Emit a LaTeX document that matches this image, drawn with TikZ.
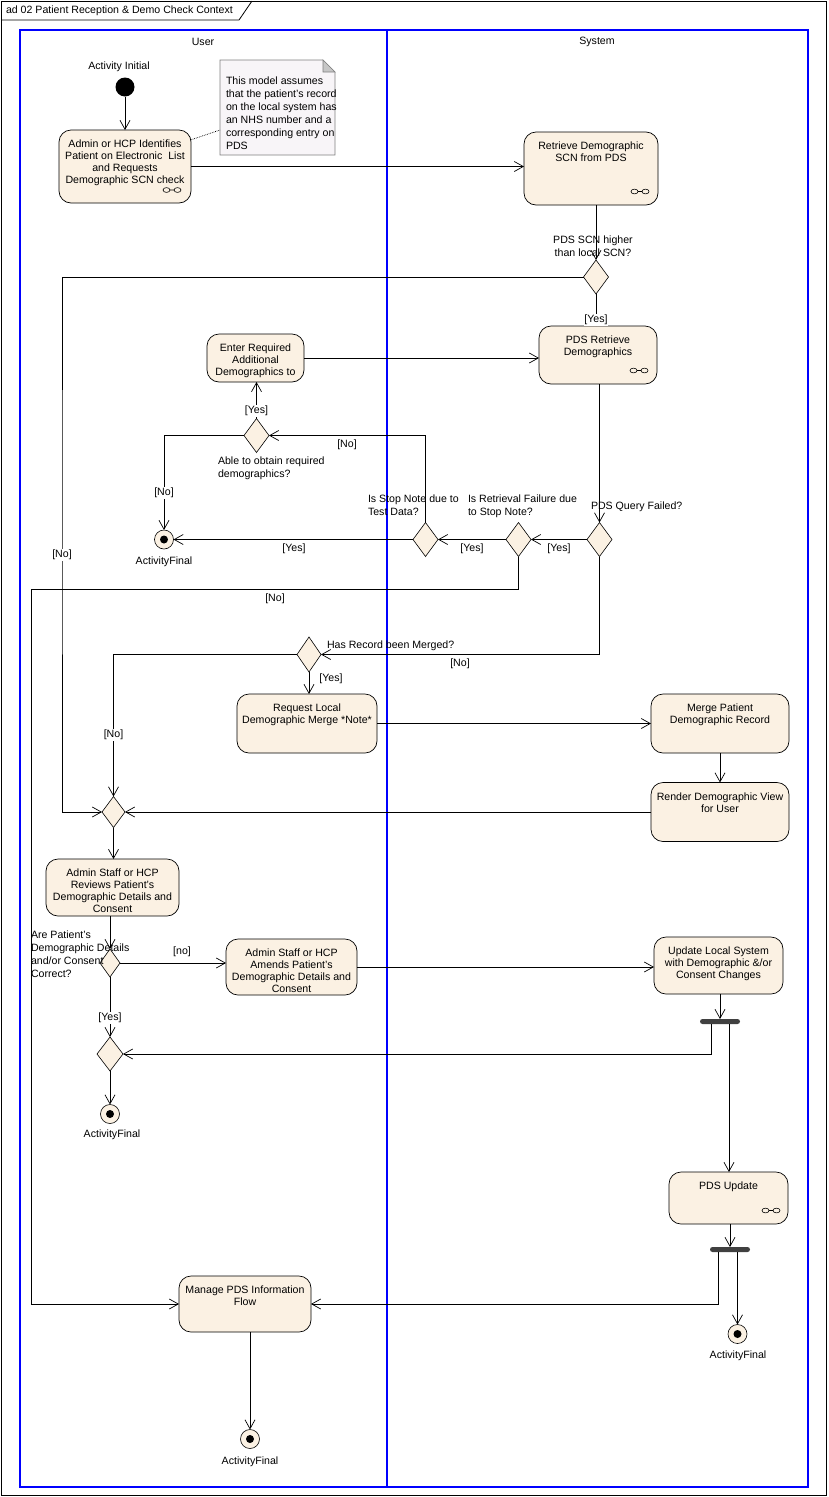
\documentclass[tikz,border=0pt]{standalone}
\usepackage{fontspec}
\setmainfont{Liberation Sans}
\usetikzlibrary{arrows.meta,shapes.geometric,calc}
\definecolor{actfill}{RGB}{251,241,227}
\definecolor{notefill}{RGB}{248,245,248}
\definecolor{notedraw}{RGB}{128,128,128}
\definecolor{lanec}{RGB}{0,0,255}
\definecolor{forkc}{RGB}{64,64,64}
\begin{document}
\begin{tikzpicture}[x=1pt,y=-1pt,
  every node/.style={font=\fontsize{10.6}{12}\selectfont, inner sep=0pt, outer sep=0pt},
  act/.style={draw, rounded corners=12pt, fill=actfill, line width=0.7pt},
  acttxt/.style={anchor=north, align=center},
  dec/.style={draw, diamond, fill=actfill, line width=0.6pt, minimum width=25pt, minimum height=34pt},
  qtxt/.style={anchor=north west, align=left, font=\fontsize{10.6}{13}\selectfont},
  lbl/.style={fill=white, inner sep=0.6pt},
  flow/.style={draw, line width=0.7pt, -{Straight Barb[length=9pt,width=10pt]}},
  fin/.style={circle, draw, fill=actfill, minimum size=19pt, line width=0.6pt},
  forkbar/.style={fill=forkc, rounded corners=2.5pt, minimum width=40pt, minimum height=5pt},
  rake/.pic={\draw[line width=0.6pt] (-5.5pt,0) ellipse (3.5pt and 2.4pt) (5.5pt,0) ellipse (3.5pt and 2.4pt) (-2pt,0) -- (2pt,0);}
]
\useasboundingbox (0,0) rectangle (828,1497);
% frame
\draw[line width=0.8pt] (1,1) rectangle (826,1495);
\draw[line width=0.8pt] (1,20) -- (239,20) -- (252,1);
\node[anchor=west] (title) at (6,11) {ad 02 Patient Reception \& Demo Check Context};
% lanes
\draw[lanec, line width=2pt] (20,30) rectangle (808,1487);
\draw[lanec, line width=2pt] (387,30) -- (387,1487);
\node (hUser) at (203,42) {User};
\node (hSys) at (597,42) {System};

% initial
\node[circle, fill=black, minimum size=19pt] (I) at (125,87) {};
\node (Il) at (119,67) {Activity Initial};

% activities
\node[act, minimum width=132pt, minimum height=73pt] (A1) at (125,166.5) {};
\node[acttxt] (A1t) at ([yshift=-10.3pt]A1.north) {Admin or HCP Identifies\\Patient on Electronic\ \ List\\and Requests\\Demographic SCN check};
\pic at ($(A1.south east)+(-19,-13)$) {rake};

\node[act, minimum width=134pt, minimum height=73pt] (A2) at (591,168.5) {};
\node[acttxt] (A2t) at ([yshift=-10.3pt]A2.north) {Retrieve Demographic\\SCN from PDS};
\pic at ($(A2.south east)+(-18,-13.5)$) {rake};

\node[act, minimum width=118pt, minimum height=58pt] (A3) at (598,355) {};
\node[acttxt] (A3t) at ([yshift=-10.3pt]A3.north) {PDS Retrieve\\Demographics};
\pic at ($(A3.south east)+(-18,-13.5)$) {rake};

\node[act, minimum width=97pt, minimum height=48pt] (A4) at (255.5,358) {};
\node[acttxt] (A4t) at ([yshift=-10.3pt]A4.north) {Enter Required\\Additional\\Demographics to};

\node[act, minimum width=140pt, minimum height=59pt] (A5) at (307,723.5) {};
\node[acttxt] (A5t) at ([yshift=-10.3pt]A5.north) {Request Local\\Demographic Merge *Note*};

\node[act, minimum width=138pt, minimum height=59pt] (A6) at (720,723.5) {};
\node[acttxt] (A6t) at ([yshift=-10.3pt]A6.north) {Merge Patient\\Demographic Record};

\node[act, minimum width=138pt, minimum height=59pt] (A7) at (720,812) {};
\node[acttxt] (A7t) at ([yshift=-10.3pt]A7.north) {Render Demographic View\\for User};

\node[act, minimum width=133pt, minimum height=57pt] (A8) at (112.5,887.5) {};
\node[acttxt] (A8t) at ([yshift=-10.3pt]A8.north) {Admin Staff or HCP\\Reviews Patient's\\Demographic Details and\\Consent};

\node[act, minimum width=131pt, minimum height=56pt] (A9) at (291.5,967) {};
\node[acttxt] (A9t) at ([yshift=-10.3pt]A9.north) {Admin Staff or HCP\\Amends Patient's\\Demographic Details and\\Consent};

\node[act, minimum width=129pt, minimum height=57pt] (A10) at (718.5,965.5) {};
\node[acttxt] (A10t) at ([yshift=-10.3pt]A10.north) {Update Local System\\with Demographic \&/or\\Consent Changes};

\node[act, minimum width=119pt, minimum height=52pt] (A11) at (728.5,1198) {};
\node[acttxt] (A11t) at ([yshift=-10.3pt]A11.north) {PDS Update};
\pic at ($(A11.south east)+(-17,-13.5)$) {rake};

\node[act, minimum width=132pt, minimum height=56pt] (A12) at (245,1304) {};
\node[acttxt] (A12t) at ([yshift=-10.3pt]A12.north) {Manage PDS Information\\Flow};

% note
\node[minimum width=115pt, minimum height=95pt] (note) at (277.5,107.5) {};
\draw[fill=notefill, draw=notedraw, line width=0.6pt] (note.north west) -- ([xshift=-12pt]note.north east) -- ([yshift=-12pt]note.north east) -- (note.south east) -- (note.south west) -- cycle;
\draw[fill=gray!45, draw=notedraw, line width=0.6pt] ([xshift=-12pt]note.north east) -- ([xshift=-12pt,yshift=-12pt]note.north east) -- ([yshift=-12pt]note.north east) -- cycle;
\node[qtxt] (notet) at (226,77) {This model assumes\\that the patient's record\\on the local system has\\an NHS number and a\\corresponding entry on\\PDS};
\draw[densely dotted, line width=0.7pt] (A1.22) -- ([yshift=25pt]note.south west);

% decisions
\node[dec] (D1) at (596,277) {};
\node[dec] (D2) at (599.5,539.5) {};
\node[dec] (D3) at (518.5,539.5) {};
\node[dec] (D4) at (425.5,539.5) {};
\node[dec] (D5) at (256.5,435.5) {};
\node[dec, minimum width=24pt, minimum height=35pt] (D6) at (309,654.5) {};
\node[dec, minimum width=23pt, minimum height=31pt] (Dm) at (113.5,812) {};
\node[dec, minimum width=20pt, minimum height=28pt] (D7) at (110,963) {};
\node[dec, minimum width=26pt, minimum height=34pt] (D8) at (110,1054) {};

% forks
\node[forkbar] (Fk1) at (720,1021.5) {};
\node[forkbar] (Fk2) at (730,1249.5) {};

% finals
\node[fin] (F1) at (164,539.5) {};
\fill (F1.center) circle (4pt);
\node (F1l) at (164,562) {ActivityFinal};
\node[fin] (F2) at (110,1114) {};
\fill (F2.center) circle (4pt);
\node (F2l) at (112,1135) {ActivityFinal};
\node[fin] (F3) at (737.5,1334) {};
\fill (F3.center) circle (4pt);
\node (F3l) at (738,1356) {ActivityFinal};
\node[fin] (F4) at (250,1439) {};
\fill (F4.center) circle (4pt);
\node (F4l) at (250,1462) {ActivityFinal};

% question texts
\node[qtxt, anchor=north, align=center] (D1q) at (593,236) {PDS SCN higher\\than local SCN?};
\node[qtxt] (D5q) at (218,457) {Able to obtain required\\demographics?};
\node[qtxt] (D4q) at (368,495) {Is Stop Note due to\\Test Data?};
\node[qtxt] (D3q) at (468,495) {Is Retrieval Failure due\\to Stop Note?};
\node[qtxt] (D2q) at (591,502) {PDS Query Failed?};
\node[qtxt] (D6q) at (327,641) {Has Record been Merged?};
\node[qtxt] (D7q) at (31,931) {Are Patient's\\Demographic Details\\and/or Consent\\Correct?};

% connectors
\draw[flow] (I.south) -- (A1.north);
\draw[flow] (A1.east) -- (A1.east -| A2.west);
\draw[flow] (A2.south -| D1.north) -- (D1.north);
\draw[flow] (D1.south) -- (D1.south |- A3.north);
\draw[flow] (D1.west) -| (62,500) |- (Dm.west);
\draw[flow] (A3.south -| D2.north) -- (D2.north);
\draw[flow] (A4.east) -- (A4.east -| A3.west);
\draw[flow] (D2.west) -- (D3.east);
\draw[flow] (D3.west) -- (D4.east);
\draw[flow] (D4.west) -- (F1.east);
\draw[flow] (D4.north) |- (D5.east);
\draw[flow] (D5.north) -- (D5.north |- A4.south);
\draw[flow] (D5.west) -| (F1.north);
\draw[flow] (D3.south) |- (31,589) |- (A12.west);
\draw[flow] (D2.south) |- (D6.east);
\draw[flow] (D6.south) -- (D6.south |- A5.north);
\draw[flow] (D6.west) -| (Dm.north);
\draw[flow] (A5.east) -- (A5.east -| A6.west);
\draw[flow] (A6.south) -- (A7.north);
\draw[flow] (A7.west) -- (Dm.east);
\draw[flow] (Dm.south) -- (Dm.south |- A8.north);
\draw[flow] (A8.south -| D7.north) -- (D7.north);
\draw[flow] (D7.east) -- (D7.east -| A9.west);
\draw[flow] (A9.east) -- (A9.east -| A10.west);
\draw[flow] (D7.south) -- (D8.north);
\draw[flow] (D8.south) -- (F2.north);
\draw[flow] (A10.south -| Fk1.north) -- (Fk1.north);
\draw[flow] ([xshift=-9pt]Fk1.south) |- (D8.east);
\draw[flow] ([xshift=9pt]Fk1.south) -- ([xshift=9pt]Fk1.south |- A11.north);
\draw[flow] (A11.south -| Fk2.north) -- (Fk2.north);
\draw[flow] ([xshift=-12pt]Fk2.south) |- (A12.east);
\draw[flow] ([xshift=7.5pt]Fk2.south) -- (F3.north);
\draw[flow] (F4.north |- A12.south) -- (F4.north);

% edge labels
\node[lbl] (l1) at (596,320) {[Yes]};
\node[lbl] (l2) at (62,555) {[No]};
\node[lbl] (l3) at (256.5,411) {[Yes]};
\node (l4) at (347,445) {[No]};
\node[lbl] (l5) at (164,493) {[No]};
\node (l6) at (294,549) {[Yes]};
\node (l7) at (472,549) {[Yes]};
\node (l8) at (559,549) {[Yes]};
\node (l9) at (275,599) {[No]};
\node (l10) at (460,664) {[No]};
\node (l11) at (331,679) {[Yes]};
\node[lbl] (l12) at (113.5,735) {[No]};
\node (l13) at (182,952) {[no]};
\node[lbl] (l14) at (110,1018) {[Yes]};
\end{tikzpicture}
\end{document}
